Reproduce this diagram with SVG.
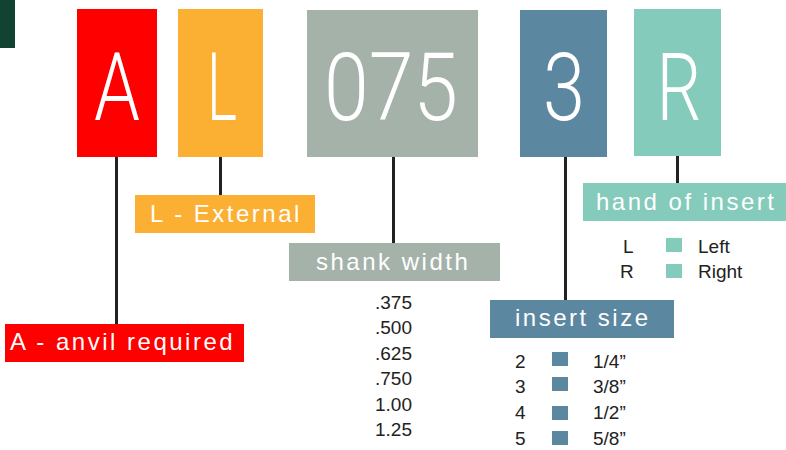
<svg xmlns="http://www.w3.org/2000/svg" width="786" height="450" viewBox="0 0 786 450">
<style>
.big{font-family:Roboto,"Liberation Sans",sans-serif;font-weight:300;font-size:95px;fill:#fff;text-anchor:middle}
.lbl{font-family:"Liberation Sans",Arial,sans-serif;font-size:24px;fill:#fff;letter-spacing:2.5px}
.lst{font-family:"Liberation Sans",Arial,sans-serif;font-size:19px;fill:#222}
.con{stroke:#222;stroke-width:3;fill:none}
</style>
<rect x="0" y="0" width="15" height="48" fill="#124332"/>
<g id="connectors">
<line class="con" x1="116.5" y1="156" x2="116.5" y2="324"/>
<line class="con" x1="220.5" y1="157" x2="220.5" y2="195"/>
<line class="con" x1="393.5" y1="156" x2="393.5" y2="243"/>
<line class="con" x1="565.5" y1="156" x2="565.5" y2="300"/>
<line class="con" x1="677.5" y1="155" x2="677.5" y2="183"/>
</g>
<g id="node-A">
<rect x="77" y="9" width="80" height="148" fill="#ff0000"/>
<text class="big" x="117" y="120" textLength="46" lengthAdjust="spacingAndGlyphs">A</text>
</g>
<g id="node-L">
<rect x="178" y="9" width="85" height="148" fill="#fbb034"/>
<text class="big" x="222" y="120" textLength="30" lengthAdjust="spacingAndGlyphs">L</text>
</g>
<g id="node-075">
<rect x="307" y="10" width="171" height="147" fill="#a4b2aa"/>
<text class="big" x="391" y="120" textLength="134" lengthAdjust="spacingAndGlyphs">075</text>
</g>
<g id="node-3">
<rect x="520" y="10" width="87" height="147" fill="#5b87a0"/>
<text class="big" x="564" y="120" textLength="42" lengthAdjust="spacingAndGlyphs">3</text>
</g>
<g id="node-R">
<rect x="634" y="9" width="87" height="147" fill="#84cbbb"/>
<text class="big" x="679" y="120" textLength="45" lengthAdjust="spacingAndGlyphs">R</text>
</g>
<g id="label-external">
<rect x="135" y="195" width="180" height="38" fill="#fbb034"/>
<text class="lbl" x="150" y="222">L - External</text>
</g>
<g id="label-shank">
<rect x="289" y="243" width="211" height="38" fill="#a4b2aa"/>
<text class="lbl" x="316" y="270">shank width</text>
</g>
<g id="label-anvil">
<rect x="5" y="324" width="239" height="38" fill="#ff0000"/>
<text class="lbl" x="10" y="350">A - anvil required</text>
</g>
<g id="label-insert-size">
<rect x="490" y="300" width="184" height="38" fill="#5b87a0"/>
<text class="lbl" x="515" y="326">insert size</text>
</g>
<g id="label-hand">
<rect x="583" y="183" width="203" height="38" fill="#84cbbb"/>
<text class="lbl" x="596" y="210" letter-spacing="2.8">hand of insert</text>
</g>
<g id="shank-values" class="lst">
<text x="375" y="309">.375</text>
<text x="375" y="334">.500</text>
<text x="375" y="360">.625</text>
<text x="375" y="385">.750</text>
<text x="375" y="411">1.00</text>
<text x="375" y="436">1.25</text>
</g>
<g id="hand-values">
<text class="lst" x="623" y="253">L</text>
<rect x="666" y="238" width="16" height="14" fill="#84cbbb"/>
<text class="lst" x="698" y="253">Left</text>
<text class="lst" x="620" y="278">R</text>
<rect x="666" y="264" width="16" height="14" fill="#84cbbb"/>
<text class="lst" x="698" y="278">Right</text>
</g>
<g id="size-values">
<text class="lst" x="515" y="368">2</text>
<rect x="552" y="352" width="16" height="14" fill="#5b87a0"/>
<text class="lst" x="593" y="368">1/4”</text>
<text class="lst" x="515" y="393">3</text>
<rect x="552" y="377" width="16" height="14" fill="#5b87a0"/>
<text class="lst" x="593" y="393">3/8”</text>
<text class="lst" x="515" y="419">4</text>
<rect x="552" y="406" width="16" height="14" fill="#5b87a0"/>
<text class="lst" x="593" y="419">1/2”</text>
<text class="lst" x="515" y="445">5</text>
<rect x="552" y="431" width="16" height="14" fill="#5b87a0"/>
<text class="lst" x="593" y="445">5/8”</text>
</g>
</svg>
